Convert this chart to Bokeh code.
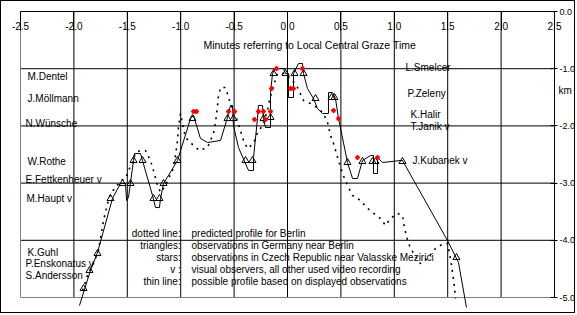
from bokeh.plotting import figure
from bokeh.models import Range1d, FixedTicker, PrintfTickFormatter
from bokeh.embed import file_html
from bokeh.resources import INLINE
from bokeh.core.properties import value

FONT = "Liberation Sans"

# ---------------- data ----------------
x_ticks = [-2.5, -2.0, -1.5, -1.0, -0.5, 0.0, 0.5, 1.0, 1.5, 2.0, 2.5]
y_ticks = [0.0, -1.0, -2.0, -3.0, -4.0, -5.0]
x_lim = (-2.5, 2.5)
y_lim = (-5.0, 0.0)

# dotted line: predicted profile for Berlin (minutes, km)
pred_t = [-1.919, -1.863, -1.816, -1.770, -1.723, -1.685, -1.657, -1.610, -1.564, -1.517,
          -1.489, -1.451, -1.423, -1.376, -1.330, -1.283, -1.255, -1.217, -1.189, -1.142,
          -1.114, -1.077, -1.049, -1.030, -1.021, -1.002, -0.974, -0.955, -0.880, -0.824,
          -0.749, -0.693, -0.674, -0.655, -0.646, -0.627, -0.581, -0.534, -0.487, -0.440,
          -0.412, -0.375, -0.318, -0.281, -0.234, -0.187, -0.169, -0.140, -0.094, -0.019,
          0.047, 0.094, 0.150, 0.215, 0.290, 0.337, 0.375, 0.403, 0.431, 0.478,
          0.515, 0.562, 0.609, 0.684, 0.740, 0.796, 0.871, 0.918, 0.964, 1.030,
          1.077, 1.096, 1.133, 1.180, 1.245, 1.311, 1.386, 1.461, 1.498, 1.526,
          1.545, 1.564, 1.573]
pred_h = [-4.878, -4.563, -4.406, -4.178, -3.654, -3.357, -3.182, -3.077, -2.955, -2.920,
          -2.780, -2.640, -2.465, -2.430, -2.430, -2.605, -2.780, -3.042, -3.164, -3.042,
          -2.920, -2.780, -2.517, -2.255, -2.028, -1.783, -2.045, -2.203, -2.343, -2.430,
          -2.378, -2.133, -1.941, -1.643, -1.469, -1.329, -1.329, -1.608, -1.818, -2.080,
          -2.255, -2.395, -2.308, -2.115, -1.993, -1.731, -1.556, -1.346, -1.084, -1.084,
          -1.206, -1.329, -1.556, -1.608, -1.696, -1.783, -1.941, -2.168, -2.308, -2.605,
          -2.832, -3.042, -3.217, -3.304, -3.427, -3.514, -3.619, -3.741, -3.619, -3.531,
          -3.566, -3.794, -4.056, -4.231, -4.406, -4.318, -4.143, -4.056, -4.056, -4.318,
          -4.563, -4.825, -5.017]

# thin line: possible profile based on displayed observations
prof_t = [-1.948, -1.845, -1.779, -1.639, -1.564, -1.517, -1.507, -1.489, -1.442, -1.433,
          -1.376, -1.358, -1.264, -1.236, -1.199, -1.189, -1.161, -1.030, -0.908, -0.880,
          -0.815, -0.749, -0.627, -0.562, -0.534, -0.515, -0.506, -0.459, -0.365, -0.318,
          -0.318, -0.281, -0.272, -0.234, -0.225, -0.206, -0.159, -0.159, -0.140, -0.112,
          -0.037, -0.019, 0.009, 0.009, 0.056, 0.056, 0.103, 0.140, 0.150, 0.187,
          0.243, 0.281, 0.328, 0.384, 0.384, 0.421, 0.449, 0.478, 0.562, 0.609,
          0.655, 0.702, 0.777, 0.805, 0.805, 0.843, 0.843, 0.890, 1.058, 1.077,
          1.498, 1.601, 1.676]
prof_h = [-5.140, -4.528, -4.213, -3.269, -3.007, -3.007, -3.304, -3.252, -2.605, -2.483,
          -2.483, -2.605, -3.217, -3.427, -3.427, -3.269, -3.007, -2.605, -1.871, -1.818,
          -2.220, -2.290, -2.255, -1.853, -1.643, -1.643, -1.993, -2.378, -2.780, -2.780,
          -2.552, -1.871, -1.643, -1.643, -1.871, -2.028, -2.028, -1.416, -1.084, -0.997,
          -0.997, -1.084, -1.084, -1.503, -1.503, -1.084, -0.909, -0.909, -1.084, -1.346,
          -1.521, -1.696, -1.783, -1.783, -1.416, -1.416, -1.521, -1.871, -2.640, -2.920,
          -2.920, -2.605, -2.517, -2.517, -2.832, -2.832, -2.552, -2.640, -2.605, -2.605,
          -4.003, -4.388, -5.175]

# triangles: observations in Germany near Berlin
ger_t = [-1.910, -1.854, -1.779, -1.657, -1.545, -1.470, -1.442, -1.358, -1.255, -1.199,
         -1.161, -1.030, -0.890, -0.562, -0.506, -0.393, -0.328, -0.225, -0.159, -0.131,
         -0.019, 0.066, 0.150, 0.262, 0.412, 0.440, 0.562, 0.702, 0.796, 0.824,
         1.077, 1.582]
ger_h = [-4.843, -4.528, -4.231, -3.269, -3.007, -3.007, -2.605, -2.605, -3.269, -3.269,
         -3.007, -2.605, -1.871, -1.871, -1.871, -2.605, -2.605, -1.871, -1.853, -1.084,
         -1.084, -1.084, -1.084, -1.521, -1.503, -1.503, -2.640, -2.622, -2.622, -2.622,
         -2.622, -4.301]

# stars: observations in Czech Republic near Valasske Mezirici
cz_t = [-0.880, -0.852, -0.552, -0.496, -0.309, -0.272, -0.225, -0.206, -0.159, -0.150,
        -0.103, 0.028, 0.056, 0.140, 0.431, 0.478, 0.655, 0.843]
cz_h = [-1.748, -1.748, -1.748, -1.748, -1.888, -1.748, -1.748, -1.888, -1.748, -1.346,
        -0.997, -1.346, -1.346, -0.997, -1.731, -1.871, -2.552, -2.552]

# observer names
left_names = ["M.Dentel", "J.Möllmann", "N.Wünsche", "W.Rothe", "E.Fettkenheuer v",
              "M.Haupt v", "K.Guhl", "P.Enskonatus v", "S.Andersson"]
left_names_x = [-2.434, -2.434, -2.453, -2.434, -2.453, -2.444, -2.434, -2.453, -2.453]
left_names_y = [-1.136, -1.521, -1.958, -2.622, -2.937, -3.269, -4.213, -4.406, -4.615]

right_names = ["L.Smelcer", "P.Zeleny", "K.Halir", "T.Janik v", "J.Kubanek v"]
right_names_x = [1.105, 1.124, 1.152, 1.152, 1.170]
right_names_y = [-0.979, -1.434, -1.801, -2.010, -2.605]

key_terms = ["dotted line:", "triangles:", "stars:", "v :", "thin line:"]
key_texts = ["predicted profile for Berlin",
             "observations in Germany near Berlin",
             "observations in Czech Republic near Valasske Mezirici",
             "visual observers, all other used video recording",
             "possible profile based on displayed observations"]
key_y = [-3.881, -4.091, -4.301, -4.510, -4.720]

axis_title = "Minutes referring to Local Central Graze Time"
unit_label = "km"

# ---------------- figure ----------------
# the frame fills the canvas; the axes are fixed at the edges of the data box
p = figure(width=575, height=313,
           x_range=Range1d(-2.678, 2.706), y_range=Range1d(-5.297, 0.175),
           output_backend="svg", toolbar_location=None,
           y_axis_location="right",
           min_border=0,
           background_fill_color="white", border_fill_color="white",
           outline_line_color=None)
p.styles = {"border": "1px solid black"}
p.grid.visible = False

xa = p.xaxis[0]
xa.fixed_location = y_lim[1]
xa.bounds = x_lim
xa.ticker = FixedTicker(ticks=x_ticks)
xa.formatter = PrintfTickFormatter(format="%.1f")
xa.major_tick_in = 0
xa.major_tick_out = 19
xa.minor_tick_in = 0
xa.minor_tick_out = 0
xa.major_label_standoff = -9
xa.major_label_text_font = FONT
xa.major_label_text_font_size = "10px"
xa.major_label_text_color = "black"
xa.axis_line_color = "black"
xa.major_tick_line_color = "black"

ya = p.yaxis[0]
ya.fixed_location = x_lim[1]
ya.bounds = y_lim
ya.ticker = FixedTicker(ticks=y_ticks)
ya.formatter = PrintfTickFormatter(format="%.1f")
ya.major_tick_in = 4
ya.major_tick_out = 3
ya.minor_tick_in = 0
ya.minor_tick_out = 0
ya.major_label_standoff = 2
ya.major_label_text_font = FONT
ya.major_label_text_font_size = "9px"
ya.major_label_text_color = "black"
ya.axis_line_color = "black"

# grid lines inside the data box, from the tick lists
xg = x_ticks[1:-1]
yg = y_ticks[1:-1]
p.segment(x0=xg, y0=[y_lim[0]] * len(xg), x1=xg, y1=[y_lim[1]] * len(xg),
          line_color="black", line_width=1)
p.segment(x0=[x_lim[0]] * len(yg), y0=yg, x1=[x_lim[1]] * len(yg), y1=yg,
          line_color="black", line_width=1)
# plot-area border (left and bottom, grey)
p.segment(x0=[x_lim[0], x_lim[0]], y0=[y_lim[0], y_lim[0]],
          x1=[x_lim[0], x_lim[1]], y1=[y_lim[1], y_lim[0]],
          line_color="#808080", line_width=1)

p.line(pred_t, pred_h, line_color="black", line_width=1.6, line_dash="2 5")
p.line(prof_t, prof_h, line_color="black", line_width=1)
p.scatter(ger_t, ger_h, marker="triangle", size=7, line_color="black",
          fill_alpha=0, line_width=1)
p.scatter(cz_t, cz_h, marker="asterisk", size=5, line_color="#ff0000", line_width=1.2)

txt = dict(text_font=value(FONT), text_font_size="10px", text_color="black",
           text_baseline="middle")
p.text(x=left_names_x, y=left_names_y, text=left_names, text_align="left", **txt)
p.text(x=right_names_x, y=right_names_y, text=right_names, text_align="left", **txt)
p.text(x=[-1.0] * len(key_terms), y=key_y, text=key_terms, text_align="right", **txt)
p.text(x=[-0.899] * len(key_texts), y=key_y, text=key_texts, text_align="left", **txt)
p.text(x=[-0.787], y=[-0.577], text=[axis_title], text_align="left",
       text_font=value(FONT), text_font_size="10.5px", text_color="black",
       text_baseline="middle")
p.text(x=[2.537], y=[-1.381], text=[unit_label], text_align="left", **txt)

open("out.html", "w").write(file_html(p, INLINE))
